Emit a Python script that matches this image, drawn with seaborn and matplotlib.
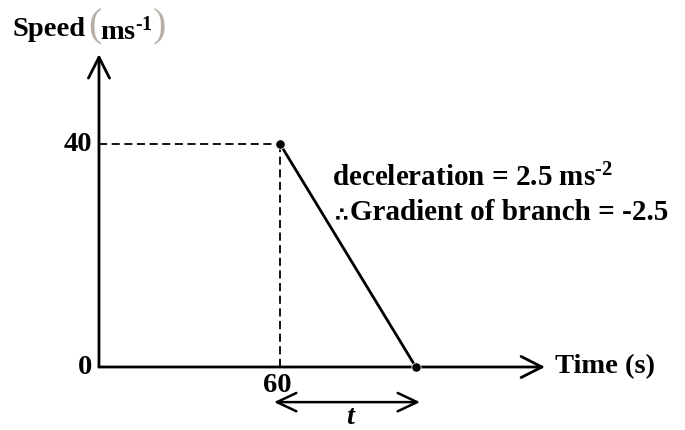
import matplotlib
matplotlib.use("Agg")
import matplotlib.pyplot as plt
import seaborn as sns
import pandas as pd

# schematic speed-time graph values (x positions as drawn, not to scale)
times = [60, 105]
speeds = [40, 0]
peak_time = 60
peak_speed = 40
ytick_labels = ["40", "0"]

sns.set_theme(style="white")
plt.rcParams["font.family"] = ["Liberation Serif", "DejaVu Sans"]
plt.rcParams["font.weight"] = "bold"
plt.rcParams["text.color"] = "black"
plt.rcParams["mathtext.fontset"] = "custom"
plt.rcParams["mathtext.default"] = "bf"
plt.rcParams["mathtext.bf"] = "Liberation Serif:bold"
plt.rcParams["mathtext.rm"] = "Liberation Serif:bold"

W, H = 685, 431
fig = plt.figure(figsize=(W / 100, H / 100), dpi=100)
ax = fig.add_axes([0, 0, 1, 1])
ax.set_xlim(-32.8, 194.2)
ax.set_ylim(-11.3, 66.0)
ax.axis("off")

df = pd.DataFrame({"time": times, "speed": speeds})
sns.lineplot(data=df, x="time", y="speed", color="black", lw=2, ax=ax)
sns.scatterplot(data=df, x="time", y="speed", color="black", s=45, ax=ax, zorder=5)

# dashed guide lines
ax.plot([0, peak_time], [peak_speed, peak_speed], color="black", lw=1.3, dashes=(4.5, 2.5))
ax.plot([peak_time, peak_time], [0, peak_speed], color="black", lw=1.3, dashes=(4.5, 2.5))

arrow = dict(arrowstyle="->,head_length=0.75,head_width=0.38", lw=2, color="black",
             mutation_scale=20, shrinkA=0, shrinkB=0)
ax.annotate("", xy=(0, 56.1), xytext=(0, 0), arrowprops=arrow)
ax.annotate("", xy=(147.8, 0), xytext=(0, 0), arrowprops=arrow)
dbl = dict(arrow, arrowstyle="<->,head_length=0.7,head_width=0.33", lw=1.8)
ax.annotate("", xy=(106.4, -6.3), xytext=(58.0, -6.3), arrowprops=dbl)

fs = 20.5
ax.text(-2.3, 40, ytick_labels[0], ha="right", va="center", fontsize=fs, fontweight="bold")
ax.text(-2.3, 0, ytick_labels[1], ha="right", va="center", fontsize=fs, fontweight="bold")


def px(x, y):
    return x / W, 1 - y / H


fig.text(*px(277, 386), "60", ha="center", va="center", fontsize=fs, fontweight="bold")
fig.text(*px(350, 418), "t", ha="center", va="center", fontsize=fs, fontweight="bold", style="italic")
fig.text(*px(555, 367), "Time (s)", ha="left", va="center", fontsize=fs, fontweight="bold")
fig.text(*px(13, 30), "Speed", ha="left", va="center", fontsize=fs, fontweight="bold")
fig.text(*px(95, 27), "(", ha="center", va="center", fontsize=29, fontweight="normal", color="#b8b0a8")
fig.text(*px(100, 31), "ms$^{\\text{-}1}$", ha="left", va="center", fontsize=fs, fontweight="bold")
fig.text(*px(159, 27), ")", ha="center", va="center", fontsize=29, fontweight="normal", color="#b8b0a8")
fig.text(*px(332, 178), "deceleration = 2.5 ms$^{\\text{-}2}$", ha="left", va="center", fontsize=21, fontweight="bold")
fig.text(*px(335, 216), "\u2234", ha="left", va="center", fontsize=14, fontweight="bold",
         family=["DejaVu Sans"])
fig.text(*px(350, 212), "Gradient of branch = -2.5", ha="left", va="center", fontsize=21, fontweight="bold")

fig.savefig("out.png", dpi=100)
